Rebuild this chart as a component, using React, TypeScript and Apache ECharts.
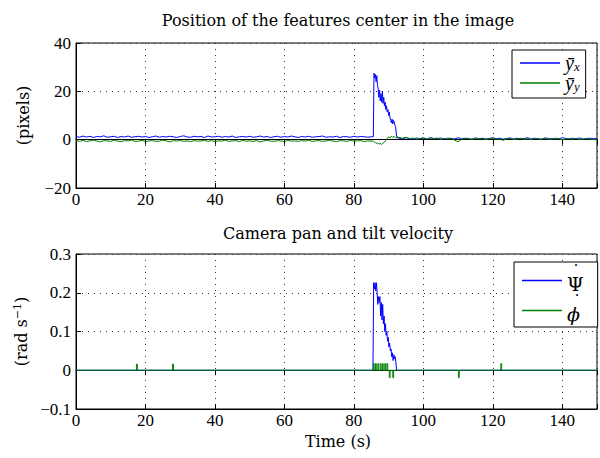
import { useEffect, useRef } from "react";
import * as echarts from "echarts";

const FONT = "'Liberation Serif', 'DejaVu Serif', serif";
const TFONT = "'DejaVu Serif', 'Liberation Serif', serif";

// ---- Top panel: position of features center (pixels) ----
// sampled once per second from t = 0 to 85
const blueTopPre = [1.3,1.0,1.5,1.1,1.4,0.9,1.3,1.2,1.6,1.0,1.2,1.4,0.9,1.3,1.1,1.5,1.0,1.2,1.4,1.1,1.3,0.9,1.2,1.5,1.0,1.3,1.1,1.4,1.2,0.9,1.3,1.6,1.1,1.0,1.4,1.2,1.3,0.9,1.5,1.1,1.2,1.4,1.0,1.3,1.1,1.5,0.9,1.2,1.3,1.1,1.4,1.0,1.2,1.5,1.1,1.3,0.9,1.2,1.4,1.0,1.3,1.1,1.5,1.2,0.9,1.3,1.1,1.4,1.0,1.2,1.3,1.5,1.0,1.2,1.1,1.4,0.9,1.3,1.2,1.0,1.4,1.1,1.3,1.2,1.0,1.2];
const greenTopPre = [-0.4,-0.7,-0.3,-0.8,-0.5,-0.2,-0.6,-0.9,-0.4,-0.5,-0.7,-0.3,-0.6,-0.8,-0.4,-0.5,-0.2,-0.7,-0.6,-0.3,-0.8,-0.5,-0.4,-0.7,-0.6,-0.2,-0.5,-0.9,-0.4,-0.6,-0.3,-0.7,-0.5,-0.8,-0.4,-0.6,-0.5,-0.3,-0.7,-0.4,-0.8,-0.5,-0.6,-0.2,-0.7,-0.5,-0.4,-0.8,-0.3,-0.6,-0.5,-0.7,-0.4,-0.9,-0.5,-0.3,-0.6,-0.7,-0.4,-0.5,-0.8,-0.3,-0.6,-0.5,-0.7,-0.4,-0.6,-0.2,-0.8,-0.5,-0.4,-0.7,-0.5,-0.3,-0.6,-0.8,-0.4,-0.5,-0.7,-0.3,-0.6,-0.5,-0.4,-0.8,-0.5,-0.6];
// [time, value] during the pan manoeuvre
const blueTopSpike = [[85.6,1.2],[85.8,27.5],[86.0,25.5],[86.2,27.0],[86.4,24.0],[86.6,26.5],[86.8,22.5],[87.0,21.0],[87.2,17.5],[87.4,20.5],[87.6,16.0],[87.8,19.0],[88.0,15.5],[88.2,20.0],[88.4,15.0],[88.6,17.5],[88.8,14.0],[89.0,15.5],[89.2,12.5],[89.4,14.0],[89.6,11.5],[89.8,12.5],[90.0,10.0],[90.2,11.5],[90.4,9.0],[90.6,8.0],[90.8,7.0],[91.0,8.5],[91.2,6.5],[91.4,8.0],[91.6,7.5],[91.8,6.0],[92.0,5.5],[92.3,1.5],[92.6,0.7]];
const greenTopSpike = [[85.6,-0.6],[86.0,-1.0],[86.4,-1.6],[86.8,-1.3],[87.2,-1.9],[87.6,-1.5],[88.0,-2.0],[88.4,-1.4],[88.8,-1.0],[89.2,-0.3],[89.6,0.6],[90.0,1.2],[90.4,0.7],[90.8,1.5],[91.2,0.9],[91.6,1.4],[92.0,0.8],[92.5,1.1]];
// sampled once per second from t = 93 to 150
const blueTopPost = [0.6,0.3,0.8,0.5,0.2,0.7,0.4,0.6,0.3,0.8,0.5,0.4,0.7,0.2,0.6,0.5,0.3,0.8,0.4,0.6,0.5,0.2,0.7,0.4,0.6,0.3,0.5,0.8,0.4,0.6,0.2,0.5,0.7,0.3,0.6,0.4,0.5,0.8,0.3,0.6,0.4,0.2,0.7,0.5,0.3,0.6,0.4,0.8,0.5,0.3,0.6,0.4,0.7,0.2,0.5,0.6,0.4,0.5];
const greenTopPost = [0.9,0.6,1.0,0.4,0.7,0.2,0.5,0.8,0.3,0.6,0.4,0.7,0.1,0.5,0.3,0.6,-0.2,-0.9,0.2,0.5,0.4,0.1,0.6,0.3,0.5,0.0,0.4,0.6,0.2,0.3,-0.3,0.4,0.5,0.1,0.3,0.6,0.2,0.4,0.0,0.5,0.3,0.2,0.6,0.1,0.4,0.3,0.5,-0.1,0.3,0.4,0.2,0.5,0.1,0.3,0.4,0.2,0.0,0.3];
const PRE_START = 0;
const POST_START = 93;

// ---- Bottom panel: camera pan / tilt velocity (rad/s) ----
const psiDot = [[0,0],[85.5,0],[85.7,0.226],[85.9,0.21],[86.1,0.226],[86.3,0.205],[86.5,0.226],[86.7,0.2],[86.9,0.17],[87.1,0.19],[87.3,0.175],[87.5,0.19],[87.7,0.14],[87.9,0.175],[88.1,0.13],[88.3,0.17],[88.5,0.12],[88.7,0.14],[88.9,0.1],[89.1,0.12],[89.3,0.09],[89.5,0.1],[89.7,0.075],[89.9,0.085],[90.1,0.06],[90.3,0.07],[90.5,0.05],[90.7,0.055],[90.9,0.035],[91.1,0.045],[91.3,0.025],[91.5,0.04],[91.7,0.03],[91.9,0.035],[92.1,0.02],[92.3,0.0],[150,0]];
const phiTimes = [17.4, 27.8, 85.6, 86.2, 86.9, 87.6, 88.2, 88.9, 89.5, 90.2, 91.2, 110.1, 122.3];
const phiHeights = [0.016, 0.016, 0.017, 0.017, 0.017, 0.017, 0.017, 0.017, 0.017, -0.019, -0.019, -0.019, 0.017];

const xTickLabels = ["0", "20", "40", "60", "80", "100", "120", "140"];

const topTitle = "Position of the features center in the image";
const bottomTitle = "Camera pan and tilt velocity";
const xLabel = "Time (s)";

function buildTop(pre: number[], spike: number[][], post: number[]) {
  const out: number[][] = [];
  pre.forEach((v, i) => out.push([PRE_START + i, v]));
  spike.forEach((p) => out.push(p));
  post.forEach((v, i) => out.push([POST_START + i, v]));
  return out;
}

function buildImpulses(times: number[], heights: number[]) {
  const out: number[][] = [[0, 0]];
  times.forEach((t, i) => {
    out.push([t, 0], [t, heights[i]], [t + 0.25, heights[i]], [t + 0.25, 0]);
  });
  out.push([150, 0]);
  return out;
}

const minus = (s: string) => s.replace("-", "\u2212");

export default function App() {
  const ref = useRef<HTMLDivElement>(null);
  useEffect(() => {
    document.body.style.margin = "0";
    const chart = echarts.init(ref.current!, null, { renderer: "svg" });

    const gridLine = { show: true, lineStyle: { color: "#333", type: [1, 5] as any, width: 1 } };
    const xAxisMain = (gridIndex: number) => ({
      type: "value",
      gridIndex,
      min: 0,
      max: 150,
      interval: 20,
      axisLine: { show: true, onZero: false, lineStyle: { color: "#000" } },
      axisTick: { show: true, inside: true, length: 5, lineStyle: { color: "#000" } },
      axisLabel: {
        color: "#000",
        fontFamily: FONT,
        fontSize: 17,
        margin: 3,
        formatter: (v: number) => xTickLabels[Math.round(v / 20)] ?? "",
      },
      splitLine: gridLine,
    });
    const xAxisTop = (gridIndex: number) => ({
      type: "value",
      gridIndex,
      position: "top",
      min: 0,
      max: 150,
      interval: 20,
      axisLine: { show: true, lineStyle: { color: "#000" } },
      axisTick: { show: true, inside: true, length: 5, lineStyle: { color: "#000" } },
      axisLabel: { show: false },
      splitLine: { show: false },
    });

    const legendRich = {
      v: { fontFamily: FONT, fontStyle: "italic", fontSize: 20, color: "#000", lineHeight: 19 },
      s: { fontFamily: FONT, fontStyle: "italic", fontSize: 13, color: "#000", verticalAlign: "bottom", lineHeight: 13, padding: [6, 0, 0, 0] },
      d: { fontFamily: TFONT, fontSize: 16, color: "#000", lineHeight: 6, padding: [0, 0, 0, 5] },
      di: { fontFamily: TFONT, fontSize: 16, color: "#000", lineHeight: 6, padding: [0, 0, 0, 6] },
      g: { fontFamily: TFONT, fontSize: 19, color: "#000", lineHeight: 19 },
      gi: { fontFamily: TFONT, fontStyle: "italic", fontSize: 19, color: "#000", lineHeight: 19 },
    };

    const yName = {
      fontFamily: TFONT,
      fontSize: 16,
      color: "#000",
    };

    const option: any = {
      animation: false,
      backgroundColor: "#fff",
      grid: [
        { left: 76, top: 43, width: 523, height: 145, show: true, borderColor: "#000", borderWidth: 1, backgroundColor: "transparent" },
        { left: 76, top: 254, width: 523, height: 155, show: true, borderColor: "#000", borderWidth: 1, backgroundColor: "transparent" },
      ],
      xAxis: [xAxisMain(0), xAxisMain(1), xAxisTop(0), xAxisTop(1)],
      yAxis: [
        {
          type: "value",
          gridIndex: 0,
          min: -20,
          max: 40,
          interval: 20,
          name: "(pixels)",
          nameLocation: "middle",
          nameGap: 45,
          nameRotate: 90,
          nameTextStyle: yName,
          axisLine: { show: true, onZero: false, lineStyle: { color: "#000" } },
          axisTick: { show: true, inside: true, length: 5, lineStyle: { color: "#000" } },
          axisLabel: { color: "#000", fontFamily: FONT, fontSize: 17, margin: 5, formatter: (v: number) => minus(String(v)) },
          splitLine: gridLine,
        },
        {
          type: "value",
          gridIndex: 1,
          min: -0.1,
          max: 0.3,
          interval: 0.1,
          name: "(rad s{sup|\u22121})",
          nameLocation: "middle",
          nameGap: 45,
          nameRotate: 90,
          nameTextStyle: {
            ...yName,
            rich: { sup: { fontFamily: TFONT, fontSize: 11, color: "#000", verticalAlign: "top", padding: [0, 0, 8, 0] } },
          },
          axisLine: { show: true, onZero: false, lineStyle: { color: "#000" } },
          axisTick: { show: true, inside: true, length: 5, lineStyle: { color: "#000" } },
          axisLabel: {
            color: "#000",
            fontFamily: FONT,
            fontSize: 17,
            margin: 5,
            formatter: (v: number) => {
              const r = Math.round(v * 10) / 10;
              return r === 0 ? "0" : minus(r.toFixed(1));
            },
          },
          splitLine: gridLine,
        },
      ],
      legend: [
        {
          data: ["yx", "yy"],
          orient: "vertical",
          left: 512,
          top: 50,
          icon: "rect",
          itemWidth: 40,
          itemHeight: 1.5,
          itemGap: 0,
          padding: [3, 6, 5, 8],
          borderColor: "#000",
          borderWidth: 1,
          backgroundColor: "#fff",
          formatter: (n: string) => (n === "yx" ? "{v|\u0233}{s|x}" : "{v|\u0233}{s|y}"),
          textStyle: { rich: legendRich },
        },
        {
          data: ["psi", "phi"],
          orient: "vertical",
          left: 514,
          top: 262,
          icon: "rect",
          itemWidth: 40,
          itemHeight: 1.5,
          itemGap: 0,
          padding: [1, 14, 4, 8],
          borderColor: "#000",
          borderWidth: 1,
          backgroundColor: "#fff",
          formatter: (n: string) => (n === "psi" ? "{d|\u02D9}\n{g|\u03A8}" : "{di|\u02D9}\n{gi|\u03D5}"),
          textStyle: { rich: legendRich },
        },
      ],
      graphic: [
        { type: "text", x: 338, y: 20, style: { text: topTitle, fontFamily: TFONT, fontSize: 16, fill: "#000", align: "center", verticalAlign: "middle" } },
        { type: "text", x: 338, y: 233, style: { text: bottomTitle, fontFamily: TFONT, fontSize: 16, fill: "#000", align: "center", verticalAlign: "middle" } },
        { type: "text", x: 338, y: 441, style: { text: xLabel, fontFamily: TFONT, fontSize: 16, fill: "#000", align: "center", verticalAlign: "middle" } },
      ],
      series: [
        {
          name: "yx",
          type: "line",
          xAxisIndex: 0,
          yAxisIndex: 0,
          data: buildTop(blueTopPre, blueTopSpike, blueTopPost),
          symbol: "none",
          lineStyle: { color: "#0000ff", width: 1 },
          itemStyle: { color: "#0000ff" },
        },
        {
          name: "yy",
          type: "line",
          xAxisIndex: 0,
          yAxisIndex: 0,
          data: buildTop(greenTopPre, greenTopSpike, greenTopPost),
          symbol: "none",
          lineStyle: { color: "#008000", width: 1 },
          itemStyle: { color: "#008000" },
        },
        {
          name: "psi",
          type: "line",
          xAxisIndex: 1,
          yAxisIndex: 1,
          data: psiDot,
          symbol: "none",
          lineStyle: { color: "#0000ff", width: 1 },
          itemStyle: { color: "#0000ff" },
        },
        {
          name: "phi",
          type: "line",
          xAxisIndex: 1,
          yAxisIndex: 1,
          data: buildImpulses(phiTimes, phiHeights),
          symbol: "none",
          lineStyle: { color: "#008000", width: 1 },
          itemStyle: { color: "#008000" },
        },
      ],
    };

    chart.setOption(option);
    return () => chart.dispose();
  }, []);
  return <div ref={ref} style={{ width: 600, height: 458 }} />;
}
